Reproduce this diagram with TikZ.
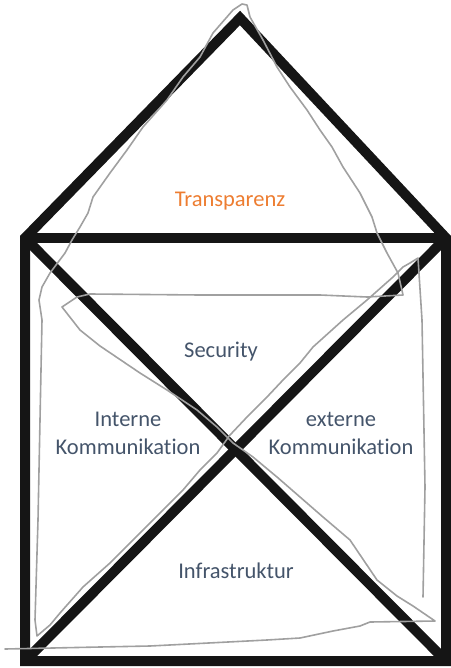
\documentclass[tikz,border=0pt]{standalone}
\usepackage{fontspec}
\setmainfont{Carlito}[Ligatures={NoCommon}]
\definecolor{labelblue}{HTML}{44546A}
\definecolor{labelorange}{HTML}{ED7D31}
\definecolor{sketchgrey}{HTML}{A0A0A0}
\definecolor{wallblack}{HTML}{151515}
\begin{document}
\begin{tikzpicture}[x=1pt,y=-1pt,
  wall/.style={draw=wallblack,line width=10pt,line join=miter},
  sketch/.style={draw=sketchgrey,line width=1.6pt,line join=round,line cap=round},
  lbl/.style={font=\fontsize{22.5}{28}\selectfont,text=labelblue,align=center,inner sep=0pt}]
\useasboundingbox (0,0) rectangle (450,668);
% corner points of the house
\coordinate (bl) at (25,661);
\coordinate (br) at (446,661);
\coordinate (tl) at (25,238);
\coordinate (tr) at (446,238);
\coordinate (apex) at (240,18);
% thick outline, roof and cross
\draw[wall] (bl) -- (tl) -- (apex) -- (tr) -- (br) -- cycle;
\draw[wall] (tl) -- (tr);
\draw[wall] (tl) -- (br);
\draw[wall] (bl) -- (tr);
% freehand one-stroke house
\coordinate (s0) at (423,597);
\coordinate (s1) at (5,649);
\draw[sketch] (s0) -- (425,487) -- (422,320) -- (418,258) -- (410,263) -- (403,267) -- (393,277)
  -- (367,300) -- (343,320) -- (313,347) -- (300,363) -- (283,380) -- (267,397) -- (247,417)
  -- (230,435) -- (217,453) -- (200,470) -- (183,490) -- (160,513) -- (133,540) -- (110,563)
  -- (83,587) -- (60,613) -- (50,625) -- (37,636) -- (35,620) -- (38,520) -- (40,420) -- (42,320)
  -- (39,300) -- (42,287) -- (50,273) -- (65,253) -- (72,240) -- (80,227) -- (88,213) -- (93,197)
  -- (110,173) -- (127,150) -- (143,127) -- (167,100) -- (183,77) -- (200,57) -- (213,33)
  -- (233,10) -- (242,4) -- (247,5) -- (250,17) -- (263,40) -- (277,67) -- (290,87) -- (307,110)
  -- (320,130) -- (332,147) -- (343,167) -- (360,193) -- (372,217) -- (377,233) -- (387,253)
  -- (398,273) -- (403,295) -- (367,297) -- (320,295) -- (200,295) -- (90,294) -- (77,297)
  -- (62,307) -- (80,330) -- (100,346) -- (140,373) -- (167,390) -- (197,410) -- (217,427)
  -- (233,443) -- (253,457) -- (277,477) -- (300,497) -- (323,517) -- (350,540) -- (377,580)
  -- (397,596) -- (413,606) -- (435,621) -- (370,622) -- (360,626) -- (333,631) -- (300,638)
  -- (267,640) -- (150,646) -- (100,647) -- (s1);
% labels
\node[lbl,text=labelorange,anchor=base] (transp) at (230,207) {Transparenz};
\node[lbl,anchor=base] (sec) at (221,357) {Security};
\node[lbl] (intern) at (128,433) {Interne\\Kommunikation};
\node[lbl] (extern) at (341,433) {externe\\Kommunikation};
\node[lbl,anchor=base] (infra) at (236,578) {Infrastruktur};
\end{tikzpicture}
\end{document}
